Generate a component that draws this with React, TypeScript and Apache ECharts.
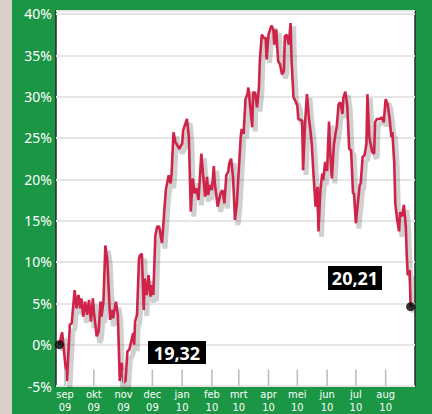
import React, { useEffect, useRef } from 'react';
import * as echarts from 'echarts';

const dates = [
  '2009-08-26','2009-08-29','2009-09-03','2009-09-06','2009-09-08','2009-09-11','2009-09-13','2009-09-15','2009-09-17','2009-09-18',
  '2009-09-20','2009-09-22','2009-09-24','2009-09-26','2009-09-28','2009-09-30','2009-10-01','2009-10-04','2009-10-06','2009-10-08',
  '2009-10-09','2009-10-11','2009-10-13','2009-10-15','2009-10-18','2009-10-20','2009-10-21','2009-10-24','2009-10-26','2009-10-28',
  '2009-10-30','2009-11-01','2009-11-03','2009-11-05','2009-11-07','2009-11-09','2009-11-11','2009-11-12','2009-11-13','2009-11-15',
  '2009-11-17','2009-11-18','2009-11-20','2009-11-22','2009-11-23','2009-11-25','2009-11-27','2009-11-29','2009-11-30','2009-12-02',
  '2009-12-04','2009-12-06','2009-12-08','2009-12-11','2009-12-13','2009-12-15','2009-12-18','2009-12-20','2009-12-21','2009-12-23',
  '2009-12-25','2009-12-27','2009-12-29','2010-01-01','2010-01-02','2010-01-06','2010-01-08','2010-01-10','2010-01-12','2010-01-14',
  '2010-01-16','2010-01-18','2010-01-21','2010-01-23','2010-01-25','2010-01-27','2010-01-28','2010-01-30','2010-02-01','2010-02-03',
  '2010-02-04','2010-02-07','2010-02-10','2010-02-12','2010-02-14','2010-02-16','2010-02-18','2010-02-19','2010-02-21','2010-02-23',
  '2010-02-25','2010-02-27','2010-03-01','2010-03-03','2010-03-04','2010-03-06','2010-03-08','2010-03-10','2010-03-11','2010-03-12',
  '2010-03-15','2010-03-16','2010-03-18','2010-03-20','2010-03-22','2010-03-23','2010-03-25','2010-03-27','2010-03-29','2010-03-30',
  '2010-04-01','2010-04-04','2010-04-06','2010-04-07','2010-04-09','2010-04-11','2010-04-13','2010-04-15','2010-04-17','2010-04-18',
  '2010-04-20','2010-04-22','2010-04-24','2010-04-25','2010-04-27','2010-04-29','2010-05-01','2010-05-02','2010-05-06','2010-05-07',
  '2010-05-09','2010-05-11','2010-05-13','2010-05-15','2010-05-16','2010-05-18','2010-05-20','2010-05-22','2010-05-23','2010-05-25',
  '2010-05-27','2010-05-28','2010-05-30','2010-06-01','2010-06-03','2010-06-04','2010-06-06','2010-06-08','2010-06-10','2010-06-11',
  '2010-06-13','2010-06-15','2010-06-17','2010-06-18','2010-06-20','2010-06-22','2010-06-24','2010-06-26','2010-06-28','2010-06-29',
  '2010-07-01','2010-07-03','2010-07-05','2010-07-06','2010-07-08','2010-07-10','2010-07-12','2010-07-13','2010-07-15','2010-07-18',
  '2010-07-20','2010-07-21','2010-07-23','2010-07-26','2010-07-28','2010-07-30','2010-08-01','2010-08-03','2010-08-05','2010-08-07',
  '2010-08-08','2010-08-10','2010-08-11','2010-08-13','2010-08-15','2010-08-16','2010-08-18','2010-08-20','2010-08-22','2010-08-23',
  '2010-08-24','2010-08-26','2010-08-27'
];

const values = [
  0.0, 1.5, -4.4, 2.4, 2.6, 6.6, 4.4, 6.0, 4.4, 5.6,
  3.4, 5.2, 3.6, 5.4, 2.8, 5.6, 4.0, 1.0, 1.6, 5.2,
  3.4, 5.2, 12.0, 10.3, 3.0, 4.2, 3.2, 5.2, 3.6, -4.4,
  -2.2, -4.6, -4.4, -0.8, -0.6, 0.4, 1.4, 0.0, 2.8, 3.6,
  10.3, 10.8, 11.0, 4.2, 8.0, 6.0, 8.4, 5.8, 7.2, 6.0,
  13.1, 14.3, 14.3, 12.3, 15.5, 18.7, 20.5, 19.5, 20.7, 25.7,
  24.5, 24.1, 23.7, 24.3, 25.9, 27.3, 25.1, 16.1, 20.1, 18.3,
  18.9, 17.5, 23.1, 20.3, 17.9, 20.3, 18.1, 19.3, 18.7, 21.6,
  19.5, 16.7, 18.3, 18.7, 17.1, 20.5, 20.9, 21.9, 22.5, 20.3,
  15.1, 17.1, 21.1, 25.1, 26.1, 25.5, 29.7, 30.3, 31.1, 29.9,
  26.3, 30.5, 30.5, 28.7, 31.1, 34.5, 37.5, 37.1, 37.1, 34.5,
  37.5, 38.6, 38.1, 36.3, 38.1, 34.3, 33.9, 32.7, 33.1, 37.3,
  37.5, 36.3, 38.9, 34.3, 29.9, 29.5, 28.9, 27.3, 27.1, 21.1,
  26.7, 30.3, 27.5, 25.5, 24.3, 20.3, 16.7, 19.1, 13.7, 18.7,
  20.7, 19.9, 22.1, 21.0, 27.0, 23.7, 20.1, 24.1, 25.7, 26.3,
  29.1, 29.3, 27.9, 29.9, 30.6, 28.9, 23.7, 23.5, 18.3, 18.3,
  14.7, 17.1, 19.3, 19.5, 22.7, 22.9, 24.3, 30.3, 25.1, 23.3,
  23.1, 26.9, 27.3, 27.3, 27.5, 26.9, 29.7, 29.1, 27.5, 25.1,
  25.7, 21.9, 17.1, 15.1, 13.7, 16.0, 15.5, 16.9, 14.3, 10.8,
  8.4, 9.0, 4.6
];

const monthTicks = [
  '2009-09-01','2009-10-01','2009-11-01','2009-12-01','2010-01-01','2010-02-01',
  '2010-03-01','2010-04-01','2010-05-01','2010-06-01','2010-07-01','2010-08-01'
];
const monthNames = ['sep','okt','nov','dec','jan','feb','mrt','apr','mei','jun','jul','aug'];
const yearNames = ['09','09','09','09','10','10','10','10','10','10','10','10'];

const startPrice = '19,32';
const endPrice = '20,21';

const yMin = -5;
const yMax = 40;
const yStep = 5;
const tickTop = -3; // month tick marks rise from the bottom to this value

function toTime(s: string): number {
  const [y, m, d] = s.split('-').map(Number);
  return new Date(y, m - 1, d).getTime();
}

export default function App() {
  const ref = useRef<HTMLDivElement>(null);

  useEffect(() => {
    if (!ref.current) return;
    const chart = echarts.init(ref.current, undefined, { renderer: 'svg' });
    const tickTimes = monthTicks.map(toTime);
    const seriesData = dates.map((d, i) => [toTime(d), values[i]]);
    const last = seriesData.length - 1;
    const condensed = "'Liberation Sans Narrow', 'DejaVu Sans Condensed', 'Noto Sans', sans-serif";
    const xMin = new Date(2009, 7, 22, 14).getTime();
    const xMax = new Date(2010, 7, 31, 14).getTime();

    chart.setOption({
      animation: false,
      backgroundColor: 'transparent',
      grid: [
        {
          left: 56,
          right: 17,
          top: 11,
          bottom: 24,
          show: true,
          backgroundColor: '#ffffff',
          borderColor: '#2a2a2a',
          borderWidth: 1.5,
        },
        // offset copy of the plot used only to cast the line's drop shadow
        { left: 59, right: 14, top: 14, bottom: 21, show: false },
      ],
      xAxis: [
        {
          type: 'value',
          gridIndex: 0,
          min: xMin,
          max: xMax,
          axisLine: { show: false, onZero: false },
          splitLine: { show: false },
          axisTick: { show: false },
          axisLabel: {
            customValues: tickTimes,
            hideOverlap: false,
            color: '#ffffff',
            fontSize: 11,
            lineHeight: 13,
            margin: 2,
            fontFamily: condensed,
            formatter: (v: number) => {
              const i = tickTimes.findIndex((t) => Math.abs(t - v) < 3600 * 1000 * 12);
              return i >= 0 ? monthNames[i] + '\n' + yearNames[i] : '';
            },
          },
        },
        {
          type: 'value',
          gridIndex: 1,
          min: xMin,
          max: xMax,
          show: false,
        },
      ],
      yAxis: [
        {
          type: 'value',
          gridIndex: 0,
          min: yMin,
          max: yMax + 0.36,
          interval: yStep,
          axisLine: { show: false },
          axisTick: { show: false },
          splitLine: { show: true, lineStyle: { color: '#e6e6e6', width: 2 } },
          axisLabel: {
            color: '#ffffff',
            fontSize: 14,
            margin: 4,
            fontFamily: "'Noto Sans', sans-serif",
            formatter: (v: number) => {
              const r = Math.round(v / yStep) * yStep;
              return Math.abs(v - r) < 1e-6 ? `${r}%` : '';
            },
          },
        },
        {
          type: 'value',
          gridIndex: 1,
          min: yMin,
          max: yMax + 0.36,
          show: false,
        },
      ],
      series: [
        {
          type: 'custom',
          silent: true,
          clip: false,
          data: tickTimes.map((t) => [t, yMin, tickTop]),
          encode: { x: 0, y: [1, 2] },
          renderItem: (_params: any, api: any) => {
            const p0 = api.coord([api.value(0), api.value(1)]);
            const p1 = api.coord([api.value(0), api.value(2)]);
            return {
              type: 'line',
              shape: { x1: p0[0], y1: p0[1], x2: p1[0], y2: p1[1] },
              style: { stroke: '#bebebe', lineWidth: 1.6 },
            };
          },
          z: 5,
        },
        {
          type: 'line',
          xAxisIndex: 1,
          yAxisIndex: 1,
          data: seriesData,
          showSymbol: false,
          symbol: 'none',
          silent: true,
          lineStyle: { color: 'rgba(60,60,60,0.24)', width: 5 },
          z: 2,
        },
        {
          type: 'line',
          data: seriesData,
          showSymbol: false,
          symbol: 'none',
          lineStyle: { color: '#cf2349', width: 2.6 },
          z: 3,
        },
        {
          type: 'scatter',
          data: [seriesData[0], seriesData[last]],
          symbolSize: 9,
          itemStyle: { color: '#000000' },
          z: 6,
        },
      ],
      graphic: [
        { type: 'rect', shape: { x: 148, y: 341, width: 58, height: 23 }, style: { fill: '#000' }, z: 10 },
        {
          type: 'text', x: 177, y: 352.5, z: 11,
          style: { text: startPrice, fill: '#fff', font: "bold 18px 'Noto Sans', sans-serif", align: 'center', verticalAlign: 'middle' },
        },
        { type: 'rect', shape: { x: 328, y: 266, width: 54, height: 24 }, style: { fill: '#000' }, z: 10 },
        {
          type: 'text', x: 355, y: 278, z: 11,
          style: { text: endPrice, fill: '#fff', font: "bold 18px 'Noto Sans', sans-serif", align: 'center', verticalAlign: 'middle' },
        },
      ],
    });

    return () => chart.dispose();
  }, []);

  return (
    <div
      style={{
        position: 'fixed',
        left: 0,
        top: 0,
        width: 432,
        height: 414,
        background: 'linear-gradient(to right, #d8d0c8 0px, #d8d0c8 12px, #1a9644 12px, #1a9644 100%)',
      }}
    >
      <div ref={ref} style={{ width: 432, height: 414 }} />
    </div>
  );
}
